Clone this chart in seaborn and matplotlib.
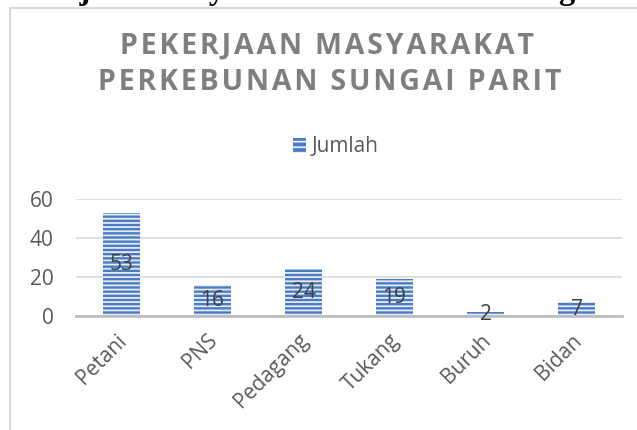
import matplotlib.pyplot as plt
import matplotlib.patches as mpatches
import matplotlib.transforms as mtransforms
import seaborn as sns
import pandas as pd

# data
pekerjaan = ["Petani", "PNS", "Pedagang", "Tukang", "Buruh", "Bidan"]
jumlah = [53, 16, 24, 19, 2, 7]
judul = "PEKERJAAN MASYARAKAT\nPERKEBUNAN SUNGAI PARIT"
yticks = [0, 20, 40, 60]

df = pd.DataFrame({"Pekerjaan": pekerjaan, "Jumlah": jumlah})

sns.set_style("white")
plt.rcParams["font.family"] = ["Open Sans", "DejaVu Sans"]
plt.rcParams["hatch.linewidth"] = 1.3

biru = "#4a7bc4"
abu_teks = "#595959"

fig = plt.figure(figsize=(6.37, 4.30), dpi=100)
ax = fig.add_axes([76 / 637, 1 - 316 / 430, (622 - 76) / 637, (316 - 199) / 430])

sns.barplot(data=df, x="Pekerjaan", y="Jumlah", color=biru, width=0.4,
            saturation=1, ax=ax, zorder=3)
for p in ax.patches:
    p.set_hatch("----")
    p.set_edgecolor("#e4ecf7")
    p.set_linewidth(0)

ax.set_ylim(0, 60)
ax.set_yticks(yticks)
ax.set_xlim(-0.5, len(pekerjaan) - 0.5)
ax.yaxis.grid(True, color="#d9d9d9", linewidth=1.2, zorder=0)
ax.set_axisbelow(True)
for s in ["top", "right", "left"]:
    ax.spines[s].set_visible(False)
ax.spines["bottom"].set_color("#bfbfbf")
ax.spines["bottom"].set_linewidth(2)
ax.spines["bottom"].set_zorder(4)
ax.tick_params(axis="y", length=0, labelsize=15, labelcolor=abu_teks, pad=16)
ax.tick_params(axis="x", length=0, labelsize=15, labelcolor=abu_teks, pad=10)
geser = mtransforms.ScaledTranslation(-4 / 72, 0, fig.dpi_scale_trans)
for t in ax.get_xticklabels():
    t.set_rotation(45)
    t.set_ha("right")
    t.set_rotation_mode("anchor")
    t.set_transform(t.get_transform() + geser)
ax.set_xlabel("")
ax.set_ylabel("")

# label nilai di tengah batang
for i, v in enumerate(jumlah):
    ax.text(i, v / 2, str(v), ha="center", va="center", fontsize=15,
            color="#404040", zorder=5)

# legenda
leg = ax.legend(handles=[mpatches.Patch(facecolor=biru, hatch="---",
                                        edgecolor="#e4ecf7", linewidth=0)],
                labels=["Jumlah"], loc="center", bbox_to_anchor=(336 / 637, 1 - 147 / 430),
                bbox_transform=fig.transFigure, frameon=False, fontsize=15,
                handlelength=0.6, handleheight=0.7, handletextpad=0.3)
for t in leg.get_texts():
    t.set_color(abu_teks)

# judul dengan jarak huruf
baris = judul.split("\n")
posisi = [(327, 46.5), (330, 82)]
for b, (px, py) in zip(baris, posisi):
    teks = "\u200a".join(b)
    fig.text(px / 637, 1 - py / 430, teks, ha="center", va="center", fontsize=20.5,
             fontweight="bold", color="#7f7f7f")

# bingkai grafik
fig.add_artist(mpatches.Rectangle((10 / 637, -0.1), 1.2, 1 - 8 / 430 + 0.1,
                                  transform=fig.transFigure, fill=False,
                                  edgecolor="#d9d9d9", linewidth=1.5))

# potongan teks dokumen di atas
fig.text(-2 / 637, 1 + 1 / 430, "Pekerjaan Masyarakat Perkebunan Sungai Parit",
         ha="left", va="baseline", fontsize=23.5, fontweight="bold",
         family="Liberation Serif", color="black")

fig.savefig("out.png", dpi=100)
